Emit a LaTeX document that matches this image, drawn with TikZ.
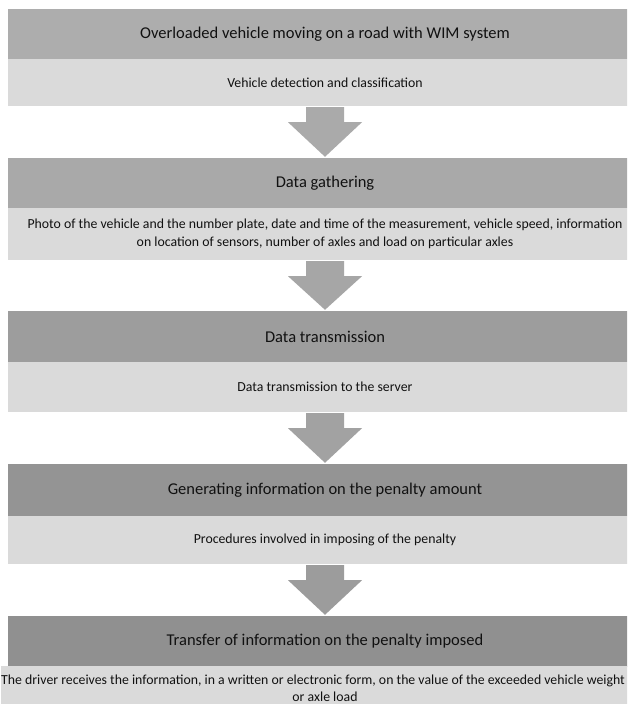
\documentclass[tikz,border=0pt]{standalone}
\usepackage{fontspec}
\setmainfont{Carlito}
\usetikzlibrary{calc}
\definecolor{txt}{HTML}{111111}
\definecolor{lightband}{HTML}{DADADA}
\definecolor{dkA}{HTML}{ADADAD}
\definecolor{dkB}{HTML}{A9A9A9}
\definecolor{dkC}{HTML}{9D9D9D}
\definecolor{dkD}{HTML}{949494}
\definecolor{dkE}{HTML}{909090}
\definecolor{arrA}{HTML}{AAAAAA}
\definecolor{arrB}{HTML}{A6A6A6}
\definecolor{arrC}{HTML}{A2A2A2}
\definecolor{arrD}{HTML}{9C9C9C}
\tikzset{
  titleband/.style={rectangle, inner sep=0pt, minimum width=634pt, text=txt,
    font=\fontsize{16.5}{19}\selectfont, align=center},
  descband/.style={rectangle, fill=lightband, inner sep=0pt, minimum width=634pt, text=txt,
    font=\fontsize{13.8}{17.5}\selectfont, align=center},
}
\newcommand{\blockarrow}[3]{%
  \fill[#3] ($(#1.south)+(-19pt,-1pt)$) -- ($(#1.south)+(19pt,-1pt)$) --
    ($(#1.south)+(19pt,-16pt)$) -- ($(#1.south)+(37pt,-16pt)$) --
    ($(#2.north)+(0,1pt)$) -- ($(#1.south)+(-37pt,-16pt)$) --
    ($(#1.south)+(-19pt,-16pt)$) -- cycle;}
\begin{document}
\begin{tikzpicture}[x=1pt,y=-1pt]
\useasboundingbox (0,0) rectangle (627,704);
\clip (0,0) rectangle (627,704);
\fill[white] (0,0) rectangle (627,704);

\node[titleband, fill=dkA, minimum height=50pt] (t1) at (325,34) {Overloaded vehicle moving on a road with WIM system};
\node[descband, minimum height=47pt] (d1) at (325,82.5) {Vehicle detection and classification};

\node[titleband, fill=dkB, minimum height=50pt] (t2) at (325,183) {Data gathering};
\node[descband, minimum height=52pt] (d2) at (325,234) {Photo of the vehicle and the number plate, date and time of the measurement, vehicle speed, information\\on location of sensors, number of axles and load on particular axles};

\node[titleband, fill=dkC, minimum height=51pt] (t3) at (325,336.5) {Data transmission};
\node[descband, minimum height=50pt] (d3) at (325,387) {Data transmission to the server};

\node[titleband, fill=dkD, minimum height=52pt] (t4) at (325,490) {Generating information on the penalty amount};
\node[descband, minimum height=48pt] (d4) at (325,540) {Procedures involved in imposing of the penalty};

\node[titleband, fill=dkE, minimum height=51pt] (t5) at (325,641.5) {Transfer of information on the penalty imposed};
\node[descband, minimum height=45pt] (d5) at (325,688.5) {The driver receives the information, in a written or electronic form, on the value of the exceeded vehicle weight\hspace*{24pt}\\or axle load};

\blockarrow{d1}{t2}{arrA}
\blockarrow{d2}{t3}{arrB}
\blockarrow{d3}{t4}{arrC}
\blockarrow{d4}{t5}{arrD}
\end{tikzpicture}
\end{document}
